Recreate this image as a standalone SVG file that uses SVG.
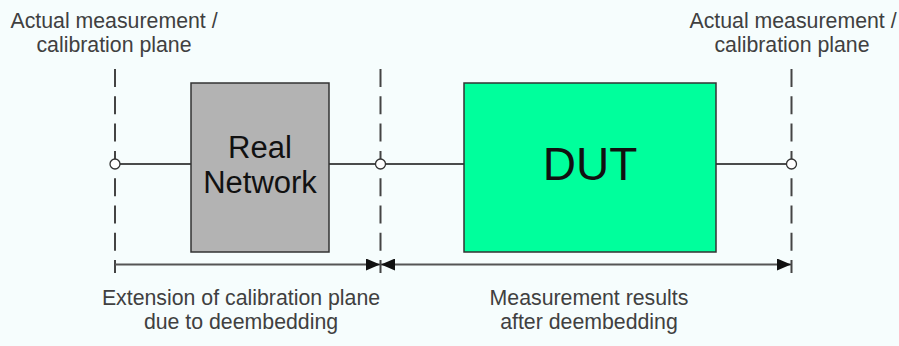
<svg xmlns="http://www.w3.org/2000/svg" width="899" height="346" viewBox="0 0 899 346">
<defs>
<style>
.lbl{font-family:"Liberation Sans",Arial,sans-serif;font-size:21.3px;fill:#404040;text-anchor:middle}
.box{stroke:#333;stroke-width:1.5}
.btxt{font-family:"Liberation Sans",Arial,sans-serif;fill:#111;text-anchor:middle}
.wire{stroke:#111;stroke-width:1.5;fill:none}
.plane{stroke:#444;stroke-width:2;stroke-dasharray:18 9.3;fill:none}
.dim{stroke:#555;stroke-width:2;fill:none}
.port{fill:#fff;stroke:#333;stroke-width:1.3}
</style>
<marker id="ah" viewBox="0 0 14 12" refX="14" refY="6" markerWidth="14" markerHeight="12" markerUnits="userSpaceOnUse" orient="auto-start-reverse">
<path d="M0,0 L14,6 L0,12 z" fill="#111"/>
</marker>
</defs>
<rect width="899" height="346" fill="#f6fdfd"/>
<g id="connectors">
<line class="plane" x1="115" y1="69" x2="115" y2="273"/>
<line class="plane" x1="380.5" y1="69" x2="380.5" y2="273"/>
<line class="plane" x1="791.5" y1="69" x2="791.5" y2="273"/>
<line class="wire" x1="115" y1="164" x2="191" y2="164"/>
<line class="wire" x1="329" y1="164" x2="464" y2="164"/>
<line class="wire" x1="716" y1="164" x2="791.5" y2="164"/>
<line class="dim" x1="115" y1="264.5" x2="380" y2="264.5" marker-end="url(#ah)"/>
<line class="dim" x1="381" y1="264.5" x2="791" y2="264.5" marker-start="url(#ah)" marker-end="url(#ah)"/>
</g>
<g id="real-network">
<rect class="box" x="191" y="83" width="138" height="169" fill="#b3b3b3"/>
<text class="btxt" x="260" y="158" font-size="31">Real</text>
<text class="btxt" x="260" y="193" font-size="31">Network</text>
</g>
<g id="dut">
<rect class="box" x="464" y="83" width="252" height="169" fill="#00ff9c"/>
<text class="btxt" x="590" y="180" font-size="46">DUT</text>
</g>
<g id="port-left"><circle class="port" cx="115" cy="164" r="5"/></g>
<g id="port-mid"><circle class="port" cx="380.5" cy="164" r="5"/></g>
<g id="port-right"><circle class="port" cx="791.5" cy="164" r="5"/></g>
<g id="label-left-plane">
<text class="lbl" x="114" y="28">Actual measurement /</text>
<text class="lbl" x="114" y="52">calibration plane</text>
</g>
<g id="label-right-plane">
<text class="lbl" x="793" y="28">Actual measurement /</text>
<text class="lbl" x="792" y="52">calibration plane</text>
</g>
<g id="label-extension">
<text class="lbl" x="241" y="305">Extension of calibration plane</text>
<text class="lbl" x="241" y="329">due to deembedding</text>
</g>
<g id="label-results">
<text class="lbl" x="589" y="305">Measurement results</text>
<text class="lbl" x="589" y="329">after deembedding</text>
</g>
</svg>
